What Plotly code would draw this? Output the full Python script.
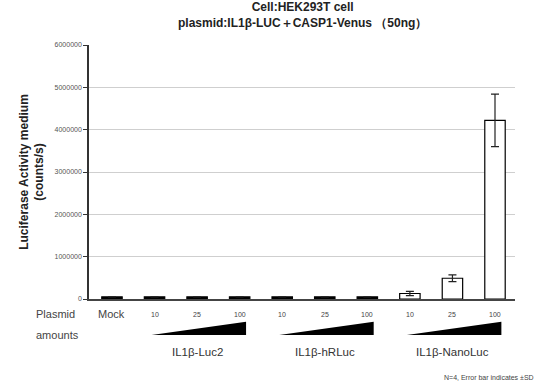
import plotly.graph_objects as go

categories = ["Mock", "10", "25", "100", "10", "25", "100", "10", "25", "100"]
values = [50000, 50000, 50000, 50000, 50000, 50000, 50000, 130000, 490000, 4220000]
errors = [0, 0, 0, 0, 0, 0, 0, 50000, 80000, 620000]
fills = ["black"] * 7 + ["white"] * 3
groups = ["IL1β-Luc2", "IL1β-hRLuc", "IL1β-NanoLuc"]
yticks = [0, 1000000, 2000000, 3000000, 4000000, 5000000, 6000000]

xs = list(range(len(categories)))
font = "Liberation Sans, Arial, sans-serif"

fig = go.Figure()
fig.add_trace(go.Bar(
    x=xs, y=values, width=0.48,
    marker=dict(color=fills, line=dict(color="black", width=1.2)),
    error_y=dict(type="data", array=errors, visible=True, color="#222", thickness=1.2, width=4),
    showlegend=False,
))

annotations = []
for i, c in enumerate(categories):
    annotations.append(dict(x=i, y=-0.06, xref="x", yref="paper", text=c, showarrow=False,
                            font=dict(size=11 if c == "Mock" else 7, color="#444", family=font),
                            yanchor="middle"))
annotations.append(dict(x=9.62, y=-0.06, xref="x", yref="paper", text="（ng）", showarrow=False,
                        font=dict(size=7, color="#444", family=font), yanchor="middle"))
annotations.append(dict(x=-0.128, y=-0.06, xref="paper", yref="paper", text="Plasmid", showarrow=False,
                        font=dict(size=11, color="#444", family=font), yanchor="middle"))
annotations.append(dict(x=-0.128, y=-0.14, xref="paper", yref="paper", text="amounts", showarrow=False,
                        font=dict(size=11, color="#444", family=font), yanchor="middle"))
shapes = []
for g, name in enumerate(groups):
    start = 1 + 3 * g
    annotations.append(dict(x=start + 1, y=-0.21, xref="x", yref="paper", text=name, showarrow=False,
                            font=dict(size=11.5, color="#333", family=font), yanchor="middle"))
    x0 = start - 0.07
    x1 = start + 2.15
    shapes.append(dict(type="path", xref="x", yref="paper",
                       path=f"M {x0} -0.142 L {x1} -0.142 L {x1} -0.09 Z",
                       fillcolor="black", line=dict(width=0)))

annotations.append(dict(x=0.5, y=1.05, xref="paper", yref="paper",
                        text="<b>Cell:HEK293T cell</b><br><b>plasmid:IL1β-LUC＋CASP1-Venus （50ng）</b>",
                        showarrow=False, yanchor="bottom",
                        font=dict(size=12, color="#222", family=font)))
annotations.append(dict(x=1.05, y=-0.31, xref="paper", yref="paper",
                        text="N=4, Error bar indicates ±SD", showarrow=False, xanchor="right",
                        font=dict(size=7, color="#444", family=font), yanchor="middle"))

fig.update_layout(
    width=537, height=382,
    margin=dict(l=89, r=22, t=45, b=83),
    plot_bgcolor="white", paper_bgcolor="white",
    annotations=annotations, shapes=shapes,
    xaxis=dict(range=[-0.54, 9.47], showticklabels=False, showgrid=False, zeroline=False,
               showline=True, linecolor="#444", linewidth=1.5, ticks=""),
    yaxis=dict(range=[0, 6000000], tickvals=yticks, ticktext=[str(v) for v in yticks],
               showgrid=True, gridcolor="#cfcfcf", gridwidth=1, zeroline=False,
               showline=True, linecolor="#333", linewidth=1.5, ticks="outside", ticklen=4,
               tickcolor="#333", tickfont=dict(size=7, color="#555", family=font),
               title=dict(text="<b>Luciferase Activity medium<br>(counts/s)</b>",
                          font=dict(size=12, color="#222", family=font), standoff=8)),
    font=dict(family=font),
)

fig.write_html("out.html")
